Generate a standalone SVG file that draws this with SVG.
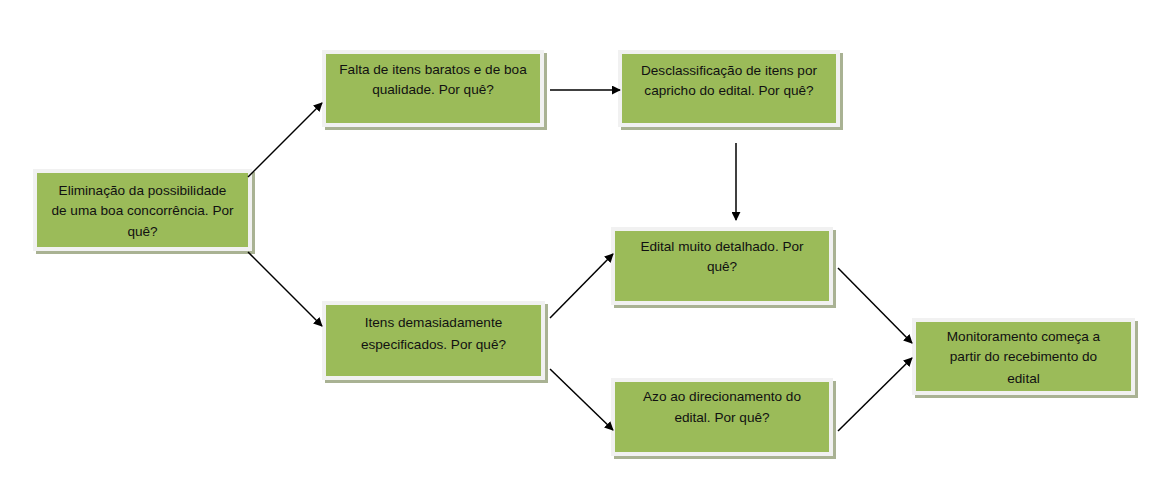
<svg xmlns="http://www.w3.org/2000/svg" width="1173" height="479" viewBox="0 0 1173 479">
<style>
.sh{fill:#a9b293}
.bd{fill:#f1f1f1}
.gr{fill:#9bbb59}
.t{font-family:"Liberation Sans",Arial,sans-serif;font-size:13.6px;fill:#111;text-anchor:middle}
.c{stroke:#000;stroke-width:1.5;fill:none;marker-end:url(#ah)}
</style>
<defs>
<marker id="ah" viewBox="0 0 10 10" refX="9" refY="5" markerWidth="9" markerHeight="9" markerUnits="userSpaceOnUse" orient="auto">
<path d="M0,0 L10,5 L0,10 z" fill="#000"/>
</marker>
</defs>
<rect width="1173" height="479" fill="#fff"/>
<g id="n1">
<rect class="sh" x="36" y="172" width="219" height="82"/>
<rect class="bd" x="33" y="169" width="219" height="82"/>
<rect class="gr" x="37" y="173" width="211" height="74"/>
<text class="t" x="142.5" y="195">Eliminação da possibilidade</text>
<text class="t" x="142.5" y="215">de uma boa concorrência. Por</text>
<text class="t" x="142.5" y="236">quê?</text>
</g>
<g id="n2">
<rect class="sh" x="325" y="53" width="222" height="77"/>
<rect class="bd" x="322" y="50" width="222" height="77"/>
<rect class="gr" x="326" y="54" width="214" height="69"/>
<text class="t" x="433" y="74">Falta de itens baratos e de boa</text>
<text class="t" x="433" y="94">qualidade. Por quê?</text>
</g>
<g id="n3">
<rect class="sh" x="621" y="53" width="222" height="77"/>
<rect class="bd" x="618" y="50" width="222" height="77"/>
<rect class="gr" x="622" y="54" width="214" height="69"/>
<text class="t" x="729" y="75">Desclassificação de itens por</text>
<text class="t" x="729" y="95">capricho do edital. Por quê?</text>
</g>
<g id="n4">
<rect class="sh" x="614" y="230" width="222" height="78"/>
<rect class="bd" x="611" y="227" width="222" height="78"/>
<rect class="gr" x="615" y="231" width="214" height="70"/>
<text class="t" x="722" y="251">Edital muito detalhado. Por</text>
<text class="t" x="722" y="271">quê?</text>
</g>
<g id="n5">
<rect class="sh" x="614" y="381" width="222" height="78"/>
<rect class="bd" x="611" y="378" width="222" height="78"/>
<rect class="gr" x="615" y="382" width="214" height="70"/>
<text class="t" x="722" y="401">Azo ao direcionamento do</text>
<text class="t" x="722" y="422">edital. Por quê?</text>
</g>
<g id="n6">
<rect class="sh" x="915" y="321" width="223" height="77"/>
<rect class="bd" x="912" y="318" width="223" height="77"/>
<rect class="gr" x="916" y="322" width="215" height="69"/>
<text class="t" x="1023.5" y="341">Monitoramento começa a</text>
<text class="t" x="1023.5" y="361">partir do recebimento do</text>
<text class="t" x="1023.5" y="383">edital</text>
</g>
<g id="n7">
<rect class="sh" x="325" y="304" width="223" height="79"/>
<rect class="bd" x="322" y="301" width="223" height="79"/>
<rect class="gr" x="326" y="305" width="215" height="71"/>
<text class="t" x="433.5" y="327">Itens demasiadamente</text>
<text class="t" x="433.5" y="349">especificados. Por quê?</text>
</g>
<g id="connectors">
<line class="c" x1="248" y1="177" x2="322" y2="103"/>
<line class="c" x1="248" y1="252" x2="322" y2="326"/>
<line class="c" x1="550" y1="90" x2="620" y2="90"/>
<line class="c" x1="736" y1="143" x2="736" y2="220"/>
<line class="c" x1="550" y1="318" x2="613" y2="254"/>
<line class="c" x1="550" y1="369" x2="613" y2="430"/>
<line class="c" x1="838" y1="268" x2="912" y2="343"/>
<line class="c" x1="838" y1="431" x2="912" y2="358"/>
</g>
</svg>
